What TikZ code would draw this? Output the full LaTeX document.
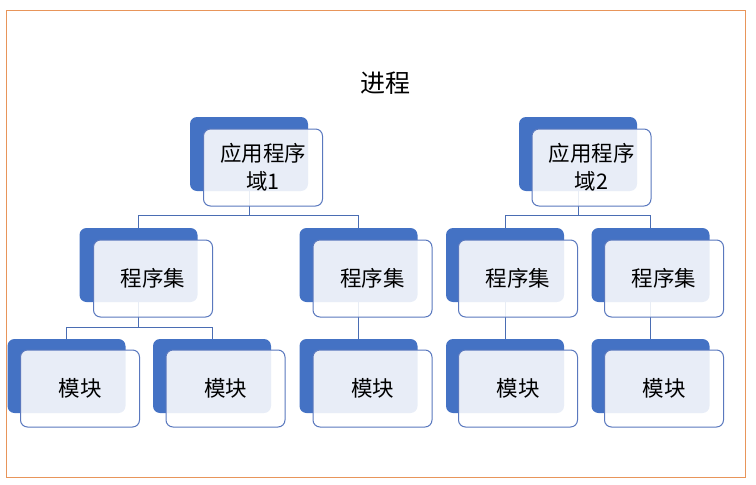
\documentclass[tikz,border=0pt]{standalone}
\usepackage{fontspec}
\setmainfont{Noto Sans CJK SC}
\usetikzlibrary{calc}
\definecolor{accent}{HTML}{4472C4}
\definecolor{edge}{HTML}{5A78BE}
\definecolor{connc}{HTML}{4A6DB3}
\definecolor{framec}{HTML}{E8955A}
\tikzset{
  backbox/.style={rectangle, rounded corners=7pt, fill=accent, draw=none,
    minimum width=118pt, minimum height=74pt, inner sep=0pt, outer sep=0pt},
  frontbox/.style={rectangle, rounded corners=7pt, fill=white, fill opacity=0.88,
    text opacity=1, draw=edge, line width=1pt,
    minimum width=119pt, minimum height=77pt, inner sep=0pt, outer sep=0pt,
    font=\fontsize{21.5pt}{28pt}\selectfont, align=center, text=black},
  conn/.style={draw=connc, line width=0.9pt},
}
\begin{document}
\begin{tikzpicture}[x=1pt,y=-1pt]
\useasboundingbox (0,0) rectangle (756,485);
\draw[framec, line width=1pt] (6.5,10.5) rectangle (745.5,477.5);
\node[font=\fontsize{25pt}{28pt}\selectfont] (title) at (385,83) {进程};

% back boxes
\node[backbox] (d1b) at (249,154) {};
\node[backbox] (d2b) at (578,154) {};
\node[backbox] (a1b) at (138.5,265) {};
\node[backbox] (a2b) at (358.5,265) {};
\node[backbox] (a3b) at (505,265) {};
\node[backbox] (a4b) at (650.5,265) {};
\node[backbox] (m1b) at (66.5,376) {};
\node[backbox] (m2b) at (212,376) {};
\node[backbox] (m3b) at (358.5,376) {};
\node[backbox] (m4b) at (505,376) {};
\node[backbox] (m5b) at (650.5,376) {};

% connectors
\coordinate (j1) at (249,215);
\coordinate (j2) at (578,215);
\coordinate (j3) at (138.5,327);
\draw[conn] (d1b.south) -- (j1);
\draw[conn] (j1) -| (a1b.north);
\draw[conn] (j1) -| (a2b.north);
\draw[conn] (d2b.south) -- (j2);
\draw[conn] (j2) -| (a3b.north);
\draw[conn] (j2) -| (a4b.north);
\draw[conn] (a1b.south) -- (j3);
\draw[conn] (j3) -| (m1b.north);
\draw[conn] (j3) -| (m2b.north);
\draw[conn] (a2b.south) -- (m3b.north);
\draw[conn] (a3b.south) -- (m4b.north);
\draw[conn] (a4b.south) -- (m5b.north);

% front boxes
\node[frontbox] (d1) at (263,167.5) {应用程序\\域1};
\node[frontbox] (d2) at (591.5,167.5) {应用程序\\域2};
\node[frontbox] (a1) at (153,278.5) {程序集};
\node[frontbox] (a2) at (372.5,278.5) {程序集};
\node[frontbox] (a3) at (518,278.5) {程序集};
\node[frontbox] (a4) at (664,278.5) {程序集};
\node[frontbox] (m1) at (80,388.5) {模块};
\node[frontbox] (m2) at (225.5,388.5) {模块};
\node[frontbox] (m3) at (372.5,388.5) {模块};
\node[frontbox] (m4) at (518,388.5) {模块};
\node[frontbox] (m5) at (664,388.5) {模块};
\end{tikzpicture}
\end{document}
